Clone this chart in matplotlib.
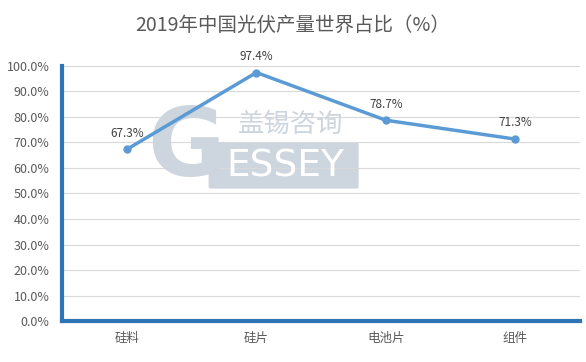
import matplotlib.pyplot as plt
from matplotlib.patches import FancyBboxPatch

plt.rcParams['font.family'] = ['Noto Sans CJK SC', 'DejaVu Sans']

categories = ['硅料', '硅片', '电池片', '组件']
shares = [67.3, 97.4, 78.7, 71.3]
yticks = [0, 10, 20, 30, 40, 50, 60, 70, 80, 90, 100]

fig = plt.figure(figsize=(5.86, 3.62), dpi=100)
ax = fig.add_axes([0.106, 0.113, 0.884, 0.705])

# watermark, kept behind the line
wm = '#cdd5df'
box = FancyBboxPatch((0.36, 0.483), 0.248, 0.12, boxstyle='round,pad=0.004',
                     transform=fig.transFigure, facecolor=wm, edgecolor='none', zorder=0.5)
ax.add_artist(box)
ax.text(0.487, 0.541, 'ESSEY', fontsize=27, color='white', family='DejaVu Sans',
        ha='center', va='center', transform=fig.transFigure, zorder=0.6)
ax.text(0.318, 0.585, 'G', fontsize=68, color=wm, fontweight='bold',
        family='DejaVu Sans', ha='center', va='center', transform=fig.transFigure, zorder=0.7)
ax.text(0.495, 0.655, '盖锡咨询', fontsize=19, color=wm, ha='center', va='center',
        transform=fig.transFigure, zorder=0.6)

ax.plot(range(len(categories)), shares, color='#5b9bd5', linewidth=2.5,
        marker='o', markersize=5, zorder=3)
for i, v in enumerate(shares):
    ax.annotate(f'{v:.1f}%', (i, v), textcoords='offset points', xytext=(0, 7),
                ha='center', va='bottom', fontsize=8.5, color='#404040', zorder=4)

ax.set_xlim(-0.5, len(categories) - 0.5)
ax.set_ylim(0, 100)
ax.set_yticks(yticks)
ax.set_yticklabels([f'{t:.1f}%' for t in yticks])
ax.set_xticks(range(len(categories)))
ax.set_xticklabels(categories)
ax.tick_params(length=0, labelsize=9, colors='#595959')
ax.tick_params(axis='y', pad=9)
ax.tick_params(axis='x', pad=8)
ax.grid(axis='y', color='#d9d9d9', linewidth=0.8)
ax.set_axisbelow(True)
for s in ['top', 'right']:
    ax.spines[s].set_visible(False)
for s in ['left', 'bottom']:
    ax.spines[s].set_color('#2e75b6')
    ax.spines[s].set_linewidth(3)

fig.suptitle('2019年中国光伏产量世界占比（%）', fontsize=14, color='#595959', y=0.958)

fig.savefig('out.png')
